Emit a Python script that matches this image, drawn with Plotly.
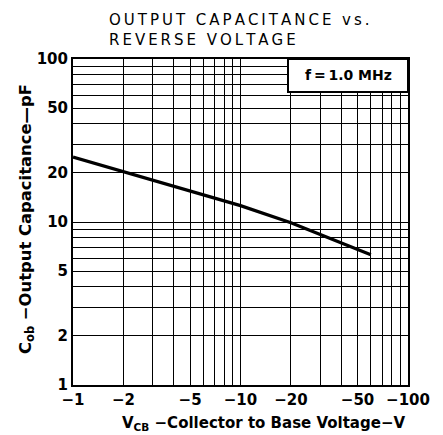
import plotly.graph_objects as go

# Data
vcb = [1, 2, 5, 10, 20, 60]           # |V_CB| in volts (plotted as negative labels)
cob = [25, 20.3, 15.5, 12.6, 9.9, 6.3]  # output capacitance, pF

x_tick_vals = [1, 2, 5, 10, 20, 50, 100]
x_tick_text = ["\u22121", "\u22122", "\u22125", "\u221210", "\u221220", "\u221250", "\u2212100"]
y_tick_vals = [1, 2, 5, 10, 20, 50, 100]
y_tick_text = ["1", "2", "5", "10", "20", "50", "100"]
grid_vals = [m * d for d in (1, 10) for m in range(1, 10)] + [100]

FONT = "DejaVu Sans"
TS = "\u2009"

def spaced(s):
    return TS.join(list(s))

fig = go.Figure()
fig.add_trace(go.Scatter(x=vcb, y=cob, mode="lines",
                         line=dict(color="black", width=3.2), showlegend=False))

axis_common = dict(type="log", range=[0, 2], showline=True, linecolor="black",
                   linewidth=2, mirror=True, showgrid=True, gridcolor="black",
                   gridwidth=1.2, ticks="", zeroline=False, automargin=False,
                   tickfont=dict(family=FONT, size=15, color="black", weight="bold"))

fig.update_xaxes(**axis_common,
                 tickvals=grid_vals,
                 ticktext=[x_tick_text[x_tick_vals.index(v)] if v in x_tick_vals else "" for v in grid_vals])
fig.update_yaxes(**axis_common,
                 tickvals=grid_vals,
                 ticktext=[y_tick_text[y_tick_vals.index(v)] if v in y_tick_vals else "" for v in grid_vals])

# page body adds an 8px offset; target coordinates are given in window pixels
OFF = 8
W, H = 443 - OFF, 435 - OFF
L, R, T, B = 73 - OFF, 35, 59 - OFF, 50
pw, ph = W - L - R, H - T - B

def px(x):
    return (x - OFF - L) / pw

def py(y):
    return (H - B - (y - OFF)) / ph

fig.update_layout(
    width=W, height=H,
    margin=dict(l=L, r=R, t=T, b=B),
    plot_bgcolor="white", paper_bgcolor="white",
    font=dict(family=FONT, color="black"),
    shapes=[dict(type="rect", xref="paper", yref="paper",
                 x0=px(288), x1=1, y0=py(92), y1=1,
                 fillcolor="white", line=dict(color="black", width=2), layer="above")],
    annotations=[
        dict(text="f\u2009=\u20091.0 MHz", xref="paper", yref="paper", x=px(348), y=py(75),
             xanchor="center", yanchor="middle",
             showarrow=False, font=dict(family=FONT, size=14, color="black", weight="bold")),
        dict(text=spaced("OUTPUT CAPACITANCE vs.") + "<br>" + spaced("REVERSE VOLTAGE"),
             xref="paper", yref="paper",
             x=px(107), y=py(9), xanchor="left", yanchor="top", align="left",
             showarrow=False, font=dict(family=FONT, size=15, color="black")),
        dict(text="V<sub>CB</sub> \u2212Collector to Base Voltage\u2212V", xref="paper", yref="paper",
             x=px(263), y=py(423), xanchor="center", yanchor="middle",
             showarrow=False, font=dict(family=FONT, size=15, color="black", weight="bold")),
        dict(text="C<sub>ob</sub> \u2212Output Capacitance\u2014pF", xref="paper", yref="paper",
             x=px(26), y=py(356), xanchor="center", yanchor="bottom", textangle=-90,
             showarrow=False, font=dict(family=FONT, size=16.4, color="black", weight="bold")),
    ],
)

fig.write_html("out.html")
